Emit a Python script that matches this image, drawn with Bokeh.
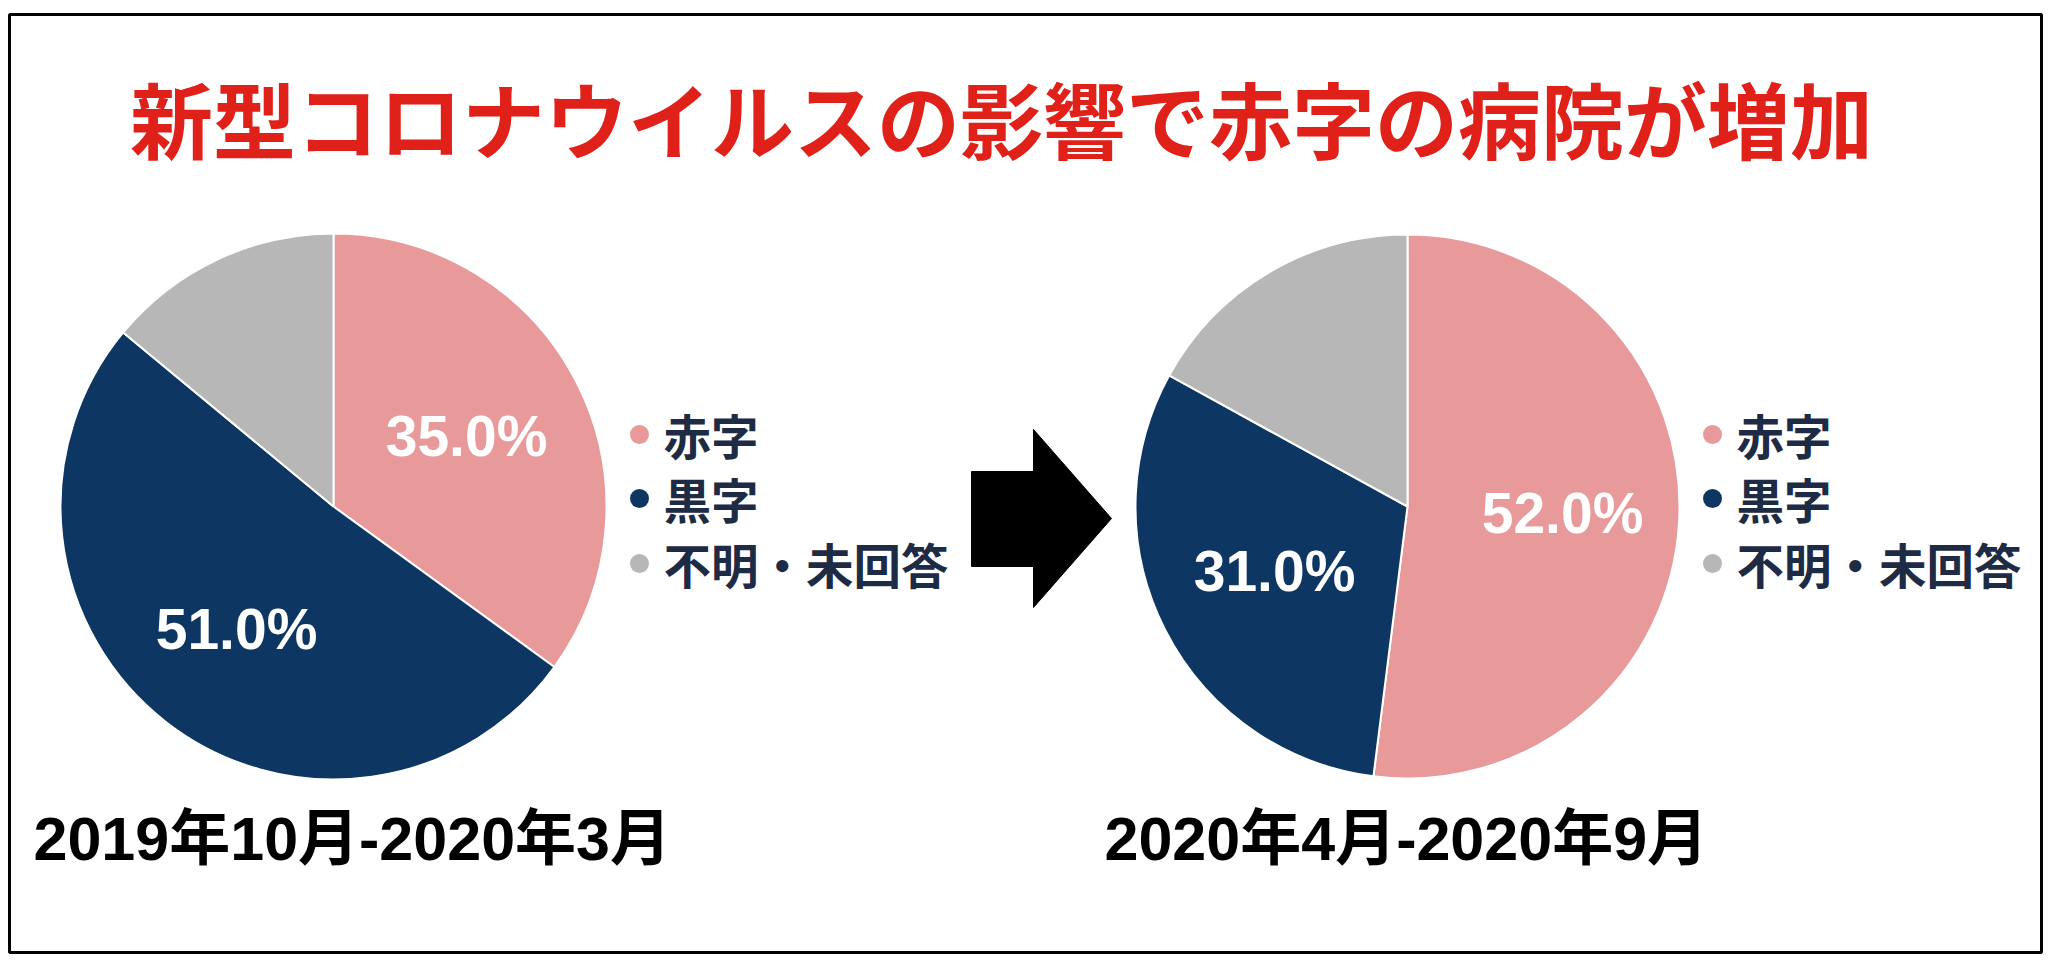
import math
from bokeh.plotting import figure
from bokeh.models import Range1d, ColumnDataSource
from bokeh.core.properties import value
from bokeh.embed import file_html
from bokeh.resources import INLINE

# ---- data ----
title_text = "新型コロナウイルスの影響で赤字の病院が増加"
categories = ["赤字", "黒字", "不明・未回答"]
colors = ["#E89A9B", "#0D3762", "#B7B7B7"]
period_labels = ["2019年10月-2020年3月", "2020年4月-2020年9月"]
values_before = [35.0, 51.0, 14.0]
values_after = [52.0, 31.0, 17.0]
shown_before = [True, True, False]
shown_after = [True, True, False]

H = 966  # image height, y flipped for data coords


def Y(y_img):
    return H - y_img


W_FIG, H_FIG = 2050, 958
p = figure(width=W_FIG, height=H_FIG, output_backend="svg", toolbar_location=None,
           x_range=Range1d(0, W_FIG), y_range=Range1d(H - H_FIG, H),
           min_border=0, outline_line_color=None)
p.axis.visible = False
p.grid.visible = False
p.background_fill_color = "white"
p.border_fill_color = "white"

# frame
p.quad(left=[9], right=[2041], bottom=[Y(952)], top=[Y(14)],
       fill_color=None, line_color="black", line_width=3)

# title
p.text(x=[1001], y=[Y(116)], text=[title_text], text_font=value("Noto Sans CJK JP"),
       text_font_style="bold", text_font_size="83px", text_color="#DF2119",
       text_align="center", text_baseline="middle")


def draw_pie(cx, cy, r, vals, shown, label_pos, legend_x, period, period_x):
    total = sum(vals)
    cum = 0.0
    starts, ends = [], []
    for v in vals:
        starts.append(math.pi / 2 - 2 * math.pi * cum / total)
        cum += v
        ends.append(math.pi / 2 - 2 * math.pi * cum / total)
    src = ColumnDataSource(dict(x=[cx] * len(vals), y=[Y(cy)] * len(vals),
                                s=starts, e=ends, c=colors))
    p.wedge(x="x", y="y", radius=r, radius_units="screen", start_angle="s", end_angle="e",
            direction="clock", fill_color="c", line_color="white", line_width=2, source=src)
    lx, ly, lt = [], [], []
    for i, v in enumerate(vals):
        if shown[i]:
            lx.append(label_pos[i][0])
            ly.append(Y(label_pos[i][1]))
            lt.append(f"{v:.1f}%")
    p.text(x=lx, y=ly, text=lt, text_font=value("Liberation Sans"), text_font_style="bold",
           text_font_size="57px", text_color="white", text_align="center",
           text_baseline="middle")
    # legend
    rows = [434, 498, 563]
    p.scatter(x=[legend_x] * 3, y=[Y(v) for v in rows], size=19, marker="circle",
              fill_color=colors, line_color=None)
    p.text(x=[legend_x + 24] * 3, y=[Y(v) for v in rows], text=categories,
           text_font=value("Noto Sans CJK JP"), text_font_style="bold",
           text_font_size="47.5px", text_color="#1E2B45", text_align="left",
           text_baseline="middle")
    # period label
    p.text(x=[period_x], y=[Y(838)], text=[period],
           text_font=value("Liberation Sans, Noto Sans CJK JP"), text_font_style="bold",
           text_font_size="61px", text_color="black", text_align="left",
           text_baseline="middle")


draw_pie(333, 506, 273, values_before, shown_before,
         [(466, 435), (236, 628), (0, 0)], 639, period_labels[0], 33)
draw_pie(1407, 506, 272, values_after, shown_after,
         [(1562, 512), (1274, 570), (0, 0)], 1712, period_labels[1], 1104)

# arrow
ax = [971, 1033, 1033, 1111, 1033, 1033, 971]
ay = [471, 471, 429, 518, 607, 566, 566]
p.patch(x=ax, y=[Y(v) for v in ay], fill_color="black", line_color="black")

open("out.html", "w").write(file_html(p, INLINE))
